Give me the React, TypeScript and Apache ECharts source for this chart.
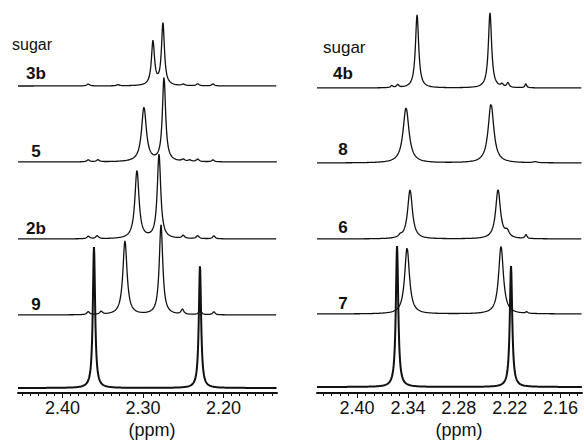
import React, { useEffect, useRef } from "react";
import * as echarts from "echarts";

// ---------- data ----------
// Left panel: spectrum labels (top to bottom) and stacking offsets (baseline height above axis)
const leftLabels = ["3b", "5", "2b", "9"];
const leftOffsets = [307, 231, 154, 78, 5];
// peak lists: position (ppm), height, half width at half max (ppm)
const l3bPpm = [2.2876, 2.2752, 2.368, 2.331, 2.25, 2.232, 2.213];
const l3bH = [44, 62, 2, 1.2, 1.5, 2, 2];
const l3bW = [0.0023, 0.0022, 0.002, 0.002, 0.002, 0.002, 0.0018];
const l5Ppm = [2.2988, 2.2739, 2.368, 2.356, 2.25, 2.242, 2.232, 2.213];
const l5H = [54, 84, 2, 2, 2, 1.5, 2.5, 2];
const l5W = [0.0036, 0.0024, 0.002, 0.002, 0.002, 0.002, 0.002, 0.0018];
const l2bPpm = [2.3075, 2.2801, 2.368, 2.357, 2.25, 2.232, 2.212];
const l2bH = [68, 84, 2.5, 3, 3, 3, 3];
const l2bW = [0.0031, 0.0026, 0.002, 0.002, 0.002, 0.002, 0.0018];
const l9Ppm = [2.3224, 2.2776, 2.368, 2.352, 2.251, 2.229, 2.212];
const l9H = [74, 90, 3, 3, 5, 4, 3];
const l9W = [0.0031, 0.0026, 0.002, 0.002, 0.002, 0.002, 0.0018];
const lRefPpm = [2.3609, 2.2292];
const lRefH = [141, 122];
const lRefW = [0.0017, 0.0017];
const leftTicks = [2.4, 2.3, 2.2];

// Right panel
const rightLabels = ["4b", "8", "6", "7"];
const rightOffsets = [305, 230, 154, 79, 6];
const r4bPpm = [2.3292, 2.2432, 2.359, 2.352, 2.229, 2.222, 2.201];
const r4bH = [73, 75, 2, 3, 3, 5, 4];
const r4bW = [0.0023, 0.0023, 0.0015, 0.0015, 0.0015, 0.0015, 0.0012];
const r8Ppm = [2.3422, 2.242, 2.19];
const r8H = [55, 59, 1];
const r8W = [0.0042, 0.004, 0.003];
const r6Ppm = [2.3375, 2.2337, 2.349, 2.223, 2.2007];
const r6H = [49, 49, 2, 6, 4];
const r6W = [0.0034, 0.0034, 0.002, 0.003, 0.0013];
const r7Ppm = [2.341, 2.2302, 2.2];
const r7H = [66, 67.6, 1.5];
const r7W = [0.0034, 0.0034, 0.0015];
const rRefPpm = [2.3528, 2.2184];
const rRefH = [141, 121];
const rRefW = [0.0017, 0.0017];
const rightTicks = [2.4, 2.34, 2.28, 2.22, 2.16];

const LEFT_MIN = 2.1335, LEFT_MAX = 2.4553;
const RIGHT_MIN = 2.1347, RIGHT_MAX = 2.4472;
const STEP = 0.0004;

function spectrum(ppm: number[], h: number[], w: number[], offset: number, xMin: number, xMax: number) {
  const pts: number[][] = [];
  const n = Math.round((xMax - xMin) / STEP);
  for (let k = 0; k <= n; k++) {
    const x = xMax - k * STEP;
    let y = offset;
    for (let i = 0; i < ppm.length; i++) {
      const d = (x - ppm[i]) / w[i];
      y += h[i] / (1 + d * d);
    }
    pts.push([x, y]);
  }
  return pts;
}

function minorList(from: number, to: number) {
  const out: number[] = [];
  for (let v = Math.round(from * 100); v >= Math.round(to * 100); v--) out.push(v / 100);
  return out;
}

export default function App() {
  const ref = useRef<HTMLDivElement>(null);
  useEffect(() => {
    if (!ref.current) return;
    const chart = echarts.init(ref.current, null, { renderer: "svg" });
    const font = "'Liberation Sans', Arial, sans-serif";
    const ink = "#111";

    const leftSpecs = [
      [l3bPpm, l3bH, l3bW],
      [l5Ppm, l5H, l5W],
      [l2bPpm, l2bH, l2bW],
      [l9Ppm, l9H, l9W],
      [lRefPpm, lRefH, lRefW],
    ];
    const rightSpecs = [
      [r4bPpm, r4bH, r4bW],
      [r8Ppm, r8H, r8W],
      [r6Ppm, r6H, r6W],
      [r7Ppm, r7H, r7W],
      [rRefPpm, rRefH, rRefW],
    ];

    const series: any[] = [];
    leftSpecs.forEach((s, i) => {
      series.push({
        type: "line",
        xAxisIndex: 0,
        yAxisIndex: 0,
        showSymbol: false,
        silent: true,
        data: spectrum(s[0], s[1], s[2], leftOffsets[i], LEFT_MIN, LEFT_MAX),
        lineStyle: { color: ink, width: i === 4 ? 2 : 1.3 },
      });
    });
    rightSpecs.forEach((s, i) => {
      series.push({
        type: "line",
        xAxisIndex: 2,
        yAxisIndex: 1,
        showSymbol: false,
        silent: true,
        data: spectrum(s[0], s[1], s[2], rightOffsets[i], RIGHT_MIN, RIGHT_MAX),
        lineStyle: { color: ink, width: i === 4 ? 2 : 1.3 },
      });
    });

    const mainAxis = (grid: number, min: number, max: number, ticks: number[]) => ({
      type: "value",
      gridIndex: grid,
      position: "bottom",
      inverse: true,
      min,
      max,
      axisLine: { show: true, lineStyle: { color: ink, width: 2 } },
      axisTick: { show: true, customValues: ticks, length: 5, lineStyle: { color: ink, width: 1 } },
      axisLabel: {
        show: true,
        customValues: ticks,
        formatter: (v: number) => v.toFixed(2),
        margin: 6,
        color: ink,
        fontSize: 18,
        lineHeight: 18,
        fontFamily: font,
      },
      splitLine: { show: false },
    });
    const minorAxis = (grid: number, min: number, max: number, ticks: number[]) => ({
      type: "value",
      gridIndex: grid,
      position: "bottom",
      inverse: true,
      min,
      max,
      axisLine: { show: false },
      axisTick: { show: true, customValues: ticks, length: 3, lineStyle: { color: ink, width: 1 } },
      axisLabel: { show: false },
      splitLine: { show: false },
    });

    const labelText = (text: string, x: number, y: number, size: number, bold: boolean) => ({
      type: "text",
      x,
      y,
      style: {
        text,
        fill: ink,
        font: `${bold ? "bold " : ""}${size}px ${font}`,
        textAlign: "center",
        textVerticalAlign: "middle",
      },
    });

    const leftLabelY = [73, 151, 228, 304];
    const rightLabelY = [73, 149, 227, 303];

    chart.setOption({
      animation: false,
      backgroundColor: "#fff",
      grid: [
        { left: 18, top: 0, width: 259, height: 393 },
        { left: 317, top: 0, width: 265, height: 393 },
      ],
      xAxis: [
        mainAxis(0, LEFT_MIN, LEFT_MAX, leftTicks),
        minorAxis(0, LEFT_MIN, LEFT_MAX, minorList(2.45, 2.14)),
        mainAxis(1, RIGHT_MIN, RIGHT_MAX, rightTicks),
        minorAxis(1, RIGHT_MIN, RIGHT_MAX, minorList(2.44, 2.14)),
      ],
      yAxis: [
        { type: "value", gridIndex: 0, min: 0, max: 393, show: false },
        { type: "value", gridIndex: 1, min: 0, max: 393, show: false },
      ],
      series,
      graphic: [
        {
          type: "text",
          left: 12,
          top: 36,
          style: { text: "sugar", fill: ink, font: `16px ${font}` },
        },
        {
          type: "text",
          left: 323,
          top: 39,
          style: { text: "sugar", fill: ink, font: `17px ${font}` },
        },
        ...leftLabels.map((t, i) => labelText(t, 36, leftLabelY[i], 17, true)),
        ...rightLabels.map((t, i) => labelText(t, 343, rightLabelY[i], 17, true)),
        labelText("(ppm)", 152, 430, 18, false),
        labelText("(ppm)", 459, 430, 18, false),
      ],
    });
    return () => chart.dispose();
  }, []);
  return (
    <div
      ref={ref}
      style={{ position: "fixed", left: 0, top: 0, width: 584, height: 445, background: "#fff" }}
    />
  );
}
